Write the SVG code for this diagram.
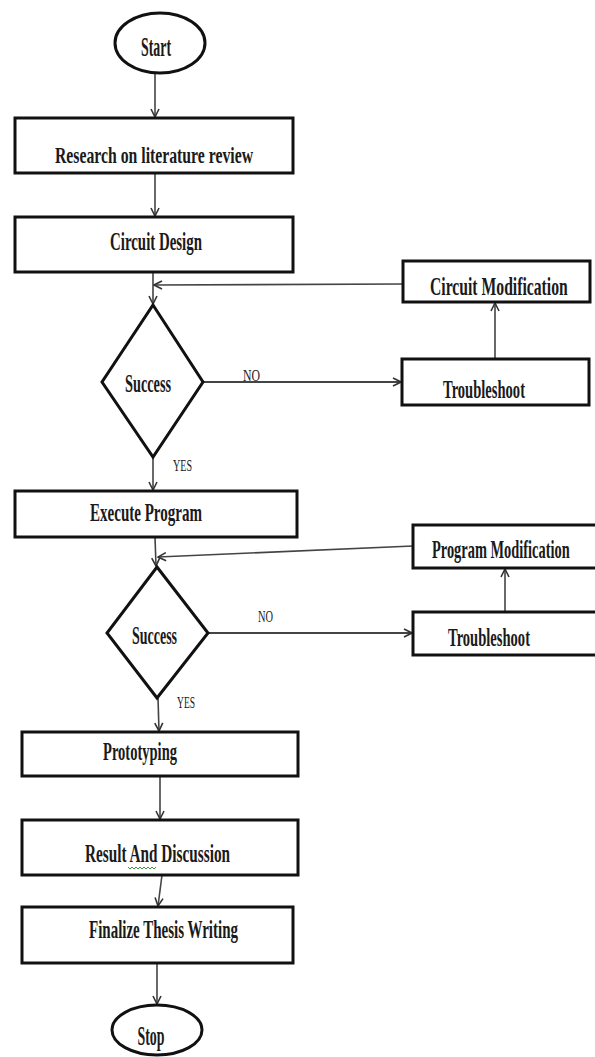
<svg xmlns="http://www.w3.org/2000/svg" width="595" height="1057" viewBox="0 0 595 1057">
<defs>
<style>
.box{fill:#fff;stroke:#111;stroke-width:3}
.t{font-family:"Liberation Serif","Times New Roman",serif;font-size:25px;font-weight:bold;fill:#1a1a1a}
.s{font-family:"Liberation Serif","Times New Roman",serif;font-size:17px;fill:#1a1a1a}
.c{fill:none;stroke:#444;stroke-width:1.6}
</style>
<marker id="ah" viewBox="0 0 10 10" refX="9" refY="5" markerWidth="10" markerHeight="10" markerUnits="userSpaceOnUse" orient="auto">
<path d="M1,1 L9,5 L1,9" fill="none" stroke="#333" stroke-width="1.6"/>
</marker>
</defs>
<rect width="595" height="1057" fill="#fff"/>
<g id="connectors">
<line class="c" x1="155" y1="73" x2="155" y2="117" marker-end="url(#ah)"/>
<line class="c" x1="155" y1="173" x2="155" y2="216" marker-end="url(#ah)"/>
<line class="c" x1="153" y1="272" x2="153" y2="304" marker-end="url(#ah)"/>
<line class="c" x1="403" y1="284" x2="154" y2="285" marker-end="url(#ah)"/>
<line class="c" x1="495" y1="359" x2="495" y2="303" marker-end="url(#ah)"/>
<line class="c" x1="203" y1="382" x2="401" y2="382" marker-end="url(#ah)" style="stroke-width:2"/>
<line class="c" x1="153" y1="457" x2="153" y2="490" marker-end="url(#ah)"/>
<line class="c" x1="155" y1="537" x2="156" y2="566" marker-end="url(#ah)"/>
<line class="c" x1="413" y1="546" x2="158" y2="557" marker-end="url(#ah)"/>
<line class="c" x1="505" y1="612" x2="505" y2="569" marker-end="url(#ah)"/>
<line class="c" x1="208" y1="633" x2="412" y2="633" marker-end="url(#ah)" style="stroke-width:2"/>
<line class="c" x1="158" y1="698" x2="159" y2="731" marker-end="url(#ah)"/>
<line class="c" x1="160" y1="776" x2="160" y2="819" marker-end="url(#ah)"/>
<line class="c" x1="162" y1="875" x2="158" y2="906" marker-end="url(#ah)"/>
<line class="c" x1="157" y1="963" x2="157" y2="1004" marker-end="url(#ah)"/>
</g>
<g id="start">
<ellipse class="box" cx="160" cy="43" rx="45" ry="30"/>
<text class="t" x="156" y="56" text-anchor="middle" textLength="30" lengthAdjust="spacingAndGlyphs" style="font-size:28px">Start</text>
</g>
<g id="research">
<rect class="box" x="15" y="118" width="278" height="55"/>
<text class="t" x="55" y="163" textLength="198" lengthAdjust="spacingAndGlyphs" style="font-size:24px">Research on literature  review</text>
</g>
<g id="circuit-design">
<rect class="box" x="15" y="217" width="278" height="55"/>
<text class="t" x="110" y="250" textLength="92" lengthAdjust="spacingAndGlyphs">Circuit Design</text>
</g>
<g id="circuit-modification">
<rect class="box" x="403" y="261" width="187" height="41"/>
<text class="t" transform="translate(430,295) scale(0.627,1)">Circuit Modification</text>
</g>
<g id="decision-1">
<polygon class="box" points="153,305 203,382 153,457 102,382"/>
<text class="t" x="125" y="392" textLength="46" lengthAdjust="spacingAndGlyphs">Success</text>
</g>
<g id="troubleshoot-1">
<rect class="box" x="402" y="359" width="187" height="46"/>
<text class="t" x="443" y="398" textLength="82" lengthAdjust="spacingAndGlyphs">Troubleshoot</text>
</g>
<g id="labels-1">
<text class="s" x="243" y="381" textLength="17" lengthAdjust="spacingAndGlyphs">NO</text>
<text class="s" x="173" y="471" textLength="19" lengthAdjust="spacingAndGlyphs">YES</text>
</g>
<g id="execute-program">
<rect class="box" x="15" y="491" width="282" height="46"/>
<text class="t" x="90" y="521" textLength="112" lengthAdjust="spacingAndGlyphs">Execute Program</text>
</g>
<g id="program-modification">
<rect class="box" x="413" y="525" width="186" height="43"/>
<text class="t" transform="translate(432,558) scale(0.576,1)">Program Modification</text>
</g>
<g id="decision-2">
<polygon class="box" points="157,567 208,633 157,698 107,633"/>
<text class="t" x="132" y="644" textLength="45" lengthAdjust="spacingAndGlyphs">Success</text>
</g>
<g id="troubleshoot-2">
<rect class="box" x="413" y="612" width="186" height="43"/>
<text class="t" x="448" y="646" textLength="82" lengthAdjust="spacingAndGlyphs">Troubleshoot</text>
</g>
<g id="labels-2">
<text class="s" x="258" y="622" textLength="15" lengthAdjust="spacingAndGlyphs">NO</text>
<text class="s" x="177" y="708" textLength="18" lengthAdjust="spacingAndGlyphs">YES</text>
</g>
<g id="prototyping">
<rect class="box" x="22" y="732" width="276" height="44"/>
<text class="t" x="103" y="760" textLength="74" lengthAdjust="spacingAndGlyphs">Prototyping</text>
</g>
<g id="result-discussion">
<rect class="box" x="22" y="820" width="276" height="55"/>
<text class="t" x="85" y="862" textLength="145" lengthAdjust="spacingAndGlyphs">Result And  Discussion</text>
<polyline points="128,867 130,869 132,867 134,869 136,867 138,869 140,867 142,869 144,867 146,869 148,867 150,869 152,867 154,869 156,867" fill="none" stroke="#3a9a3a" stroke-width="1"/>
</g>
<g id="finalize">
<rect class="box" x="22" y="907" width="271" height="56"/>
<text class="t" x="89" y="938" textLength="149" lengthAdjust="spacingAndGlyphs">Finalize  Thesis  Writing</text>
</g>
<g id="stop">
<ellipse class="box" cx="157" cy="1030" rx="45" ry="25"/>
<text class="t" x="151" y="1045" text-anchor="middle" textLength="27" lengthAdjust="spacingAndGlyphs" style="font-size:27px">Stop</text>
</g>
</svg>
